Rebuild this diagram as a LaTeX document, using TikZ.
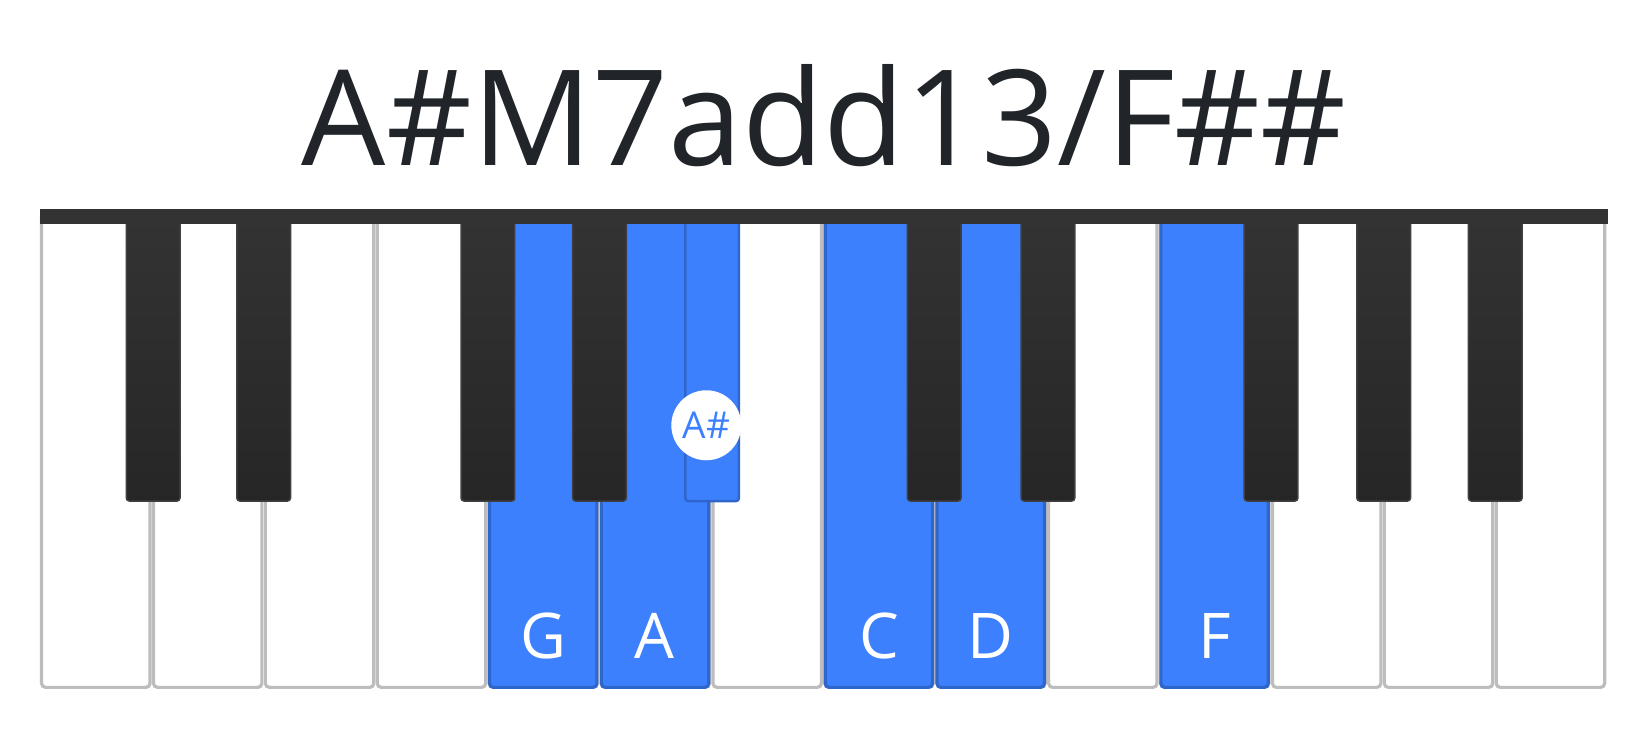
\documentclass[tikz,border=0pt]{standalone}
\usepackage{fontspec}
\setmainfont{Open Sans}
\definecolor{kblue}{HTML}{3D80FE}
\definecolor{kbluedark}{HTML}{2F66CC}
\definecolor{kgray}{HTML}{BDBDBD}
\definecolor{ktop}{HTML}{333333}
\definecolor{ktxt}{HTML}{212529}
\begin{document}
\begin{tikzpicture}[x=1.0526pt,y=1.0526pt,
  whitekey/.style={draw=kgray,line width=3.2pt,fill=white,rounded corners=4pt},
  bluekey/.style={draw=kbluedark,line width=3.2pt,fill=kblue,rounded corners=4pt},
  blackkey/.style={draw=black!75,line width=1.5pt,top color=ktop,bottom color=black!85,rounded corners=3pt},
  bluebkey/.style={draw=kbluedark,line width=2.5pt,fill=kblue,rounded corners=3pt},
  keylabel/.style={text=white,font=\fontsize{63}{63}\selectfont,inner sep=0pt,anchor=base}]
\fill[white] (0,0) rectangle (1567.5,-703);
\useasboundingbox (0,0) rectangle (1567.5,-703);
\node[text=ktxt,font=\fontsize{133}{133}\selectfont,inner sep=0pt,anchor=base] (title) at (783,-157) {A\#M7add13/F\#\#};
\foreach \i in {0,...,13}{
  \pgfmathsetmacro{\xa}{39.5+106.3*\i}
  \pgfmathsetmacro{\xb}{\xa+103}
  \draw[whitekey] (\xa,-205) -- (\xa,-653) -- (\xb,-653) -- (\xb,-205);
}
\foreach \i in {4,5,7,8,10}{
  \pgfmathsetmacro{\xa}{465+106.3*(\i-4)}
  \pgfmathsetmacro{\xb}{\xa+102}
  \draw[bluekey] (\xa,-205) -- (\xa,-653) -- (\xb,-653) -- (\xb,-205);
}
\node[keylabel] (lg) at (516,-626) {G};
\node[keylabel] (la) at (622,-626) {A};
\node[keylabel] (lc) at (835,-626) {C};
\node[keylabel] (ld) at (941,-626) {D};
\node[keylabel] (lf) at (1154,-626) {F};
\foreach \x in {120,225,438,544,862,970,1182,1289,1395}{
  \draw[blackkey] (\x,-205) -- (\x,-476) -- (\x+51,-476) -- (\x+51,-205);
}
\draw[bluebkey] (651,-205) -- (651,-476) -- (702,-476) -- (702,-205);
\node[circle,fill=white,minimum size=70pt,inner sep=0pt,text=kblue,font=\fontsize{37}{37}\selectfont] (asharp) at (671,-404) {A\#};
\fill[ktop] (38,-199) rectangle (1528,-213);
\end{tikzpicture}
\end{document}
